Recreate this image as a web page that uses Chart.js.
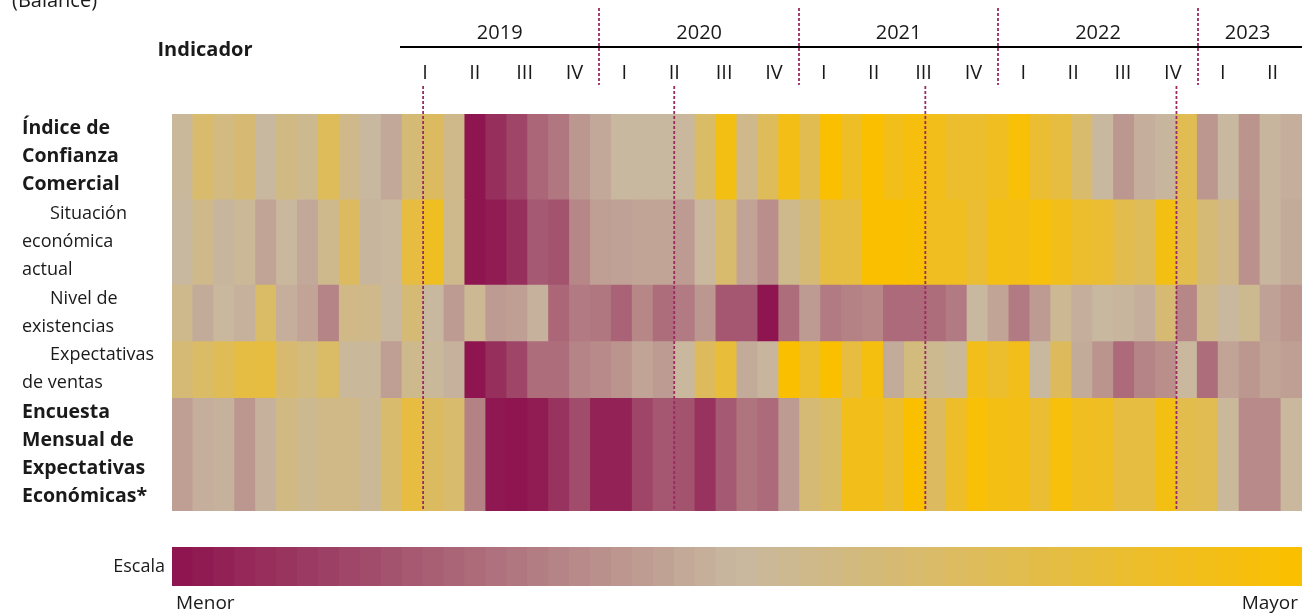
<!DOCTYPE html>
<html>
<head>
<meta charset="utf-8">
<script src="https://cdn.jsdelivr.net/npm/chart.js@4.4.0/dist/chart.umd.min.js"></script>
<style>
    html, body { margin: 0; padding: 0; background: #fff; }
    #wrap { position: relative; width: 1302px; height: 613px; overflow: hidden; }
    #heat-box { position: absolute; left: 0; top: 0; width: 1302px; height: 530px; }
    #scale-box { position: absolute; left: 0; top: 530px; width: 1302px; height: 83px; }
</style>
</head>
<body>
<div id="wrap">
    <div id="heat-box"><canvas id="heat-canvas"></canvas></div>
    <div id="scale-box"><canvas id="scale-canvas"></canvas></div>
</div>
<script>
    var YEARS = ['2019', '2020', '2021', '2022', '2023'];
    var MONTHS_PER_YEAR = [12, 12, 12, 12, 6];
    var MONTH_NAMES = ['ene', 'feb', 'mar', 'abr', 'may', 'jun', 'jul', 'ago', 'sep', 'oct', 'nov', 'dic'];
    var QUARTERS = ['I', 'II', 'III', 'IV'];

    // row labels, one entry per text line
    var ROW_LABELS = [
        ['Índice de', 'Confianza', 'Comercial'],
        ['      Situación', 'económica', 'actual'],
        ['      Nivel de', 'existencias'],
        ['      Expectativas', 'de ventas'],
        ['Encuesta', 'Mensual de', 'Expectativas', 'Económicas*']
    ];
    var ROW_BOLD = [true, false, false, false, true];

    // heat level per month, 0 = menor, 100 = mayor
    var ICC = [52, 66, 60, 64, 50, 59, 55, 72, 57, 50, 45, 63, 70, 57,
        0, 8, 15, 25, 30, 40, 45, 50, 50, 50, 51, 68, 94, 57,
        72, 93, 75, 100, 88, 100, 92, 96, 92, 86, 86, 90, 98, 84,
        80, 66, 50, 40, 47, 49, 74, 40, 50, 39, 49, 47];
    var SITUACION = [50, 57, 49, 53, 44, 51, 45, 56, 70, 49, 51, 80, 89, 56,
        0, 2, 8, 21, 19, 35, 42, 43, 44, 44, 41, 51, 66, 44,
        37, 56, 63, 80, 80, 100, 100, 99, 90, 90, 84, 94, 93, 97,
        92, 86, 84, 76, 72, 94, 76, 63, 58, 38, 49, 46];
    var EXISTENCIAS = [56, 46, 51, 48, 68, 47, 44, 34, 58, 57, 50, 63, 50, 41,
        54, 41, 42, 48, 25, 31, 30, 24, 35, 27, 31, 40, 20, 20,
        0, 27, 41, 31, 33, 35, 26, 26, 27, 31, 50, 44, 31, 41,
        54, 47, 50, 49, 47, 64, 35, 57, 51, 55, 43, 40];
    var EXPECTATIVAS = [63, 68, 73, 79, 80, 65, 61, 68, 52, 52, 42, 56, 52, 48,
        0, 8, 15, 27, 27, 34, 36, 39, 44, 41, 51, 71, 82, 46,
        49, 100, 86, 100, 80, 95, 46, 61, 55, 52, 92, 86, 92, 50,
        71, 46, 39, 26, 34, 37, 51, 27, 44, 40, 44, 42];
    var EMEE = [42, 47, 48, 40, 48, 59, 55, 58, 58, 53, 66, 80, 70, 66,
        33, 1, 0, 2, 9, 17, 4, 4, 15, 20, 19, 9, 21, 29,
        26, 41, 63, 68, 92, 92, 86, 100, 70, 87, 98, 94, 93, 84,
        97, 90, 89, 80, 80, 94, 76, 74, 52, 36, 36, 51];
    var ROWS = [ICC, SITUACION, EXISTENCIAS, EXPECTATIVAS, EMEE];

    var FONT = '"Open Sans", sans-serif';
    var TEXT = '#1a1a1a';
    var DASH_COLOR = '#9c2a62';

    /**
     * Colour stops of the scale: menor (granate) -> neutral -> mayor (amarillo).
     */
    var STOPS = [[0, [142, 21, 80]], [50, [200, 184, 160]], [100, [250, 192, 0]]];

    function scaleColor(v){
        var lo = STOPS[0], hi = STOPS[STOPS.length - 1];
        for (var i = 0; i < STOPS.length - 1; i++) {
            if (v >= STOPS[i][0] && v <= STOPS[i + 1][0]) { lo = STOPS[i]; hi = STOPS[i + 1]; break; }
        }
        var t = (v - lo[0]) / (hi[0] - lo[0]);
        var c = lo[1].map(function(a, k){ return Math.round(a + (hi[1][k] - a) * t); });
        return 'rgb(' + c.join(',') + ')';
    }

    var MONTH_LABELS = [];
    YEARS.forEach(function(y, i){
        for (var m = 0; m < MONTHS_PER_YEAR[i]; m++) {
            MONTH_LABELS.push(MONTH_NAMES[m] + '-' + y.slice(2));
        }
    });

    // row centres on the stacked y scale (each text line = 1 unit)
    var ROW_CENTERS = [];
    var TOTAL_UNITS = 0;
    ROW_LABELS.forEach(function(lines){
        ROW_CENTERS.push(TOTAL_UNITS + lines.length / 2);
        TOTAL_UNITS += lines.length;
    });

    /**
     * Header with years, quarters and dashed separators.
     * The header band starts 228px right of the plot and ends 4px short of it.
     */
    var headerPlugin = {
        id: 'header',
        afterDatasetsDraw: function(chart){
            var ctx = chart.ctx, area = chart.chartArea;
            var xs = chart.scales.x;
            var hLeft = area.left + 228;
            var hMonth = (area.right - 4.5 - hLeft) / MONTH_LABELS.length;
            var hx = function(m){ return hLeft + m * hMonth; };

            ctx.save();
            ctx.fillStyle = TEXT;
            ctx.textBaseline = 'alphabetic';
            ctx.textAlign = 'left';
            ctx.font = '20px ' + FONT;
            ctx.fillText('(Balance)', 12, 7);

            ctx.textAlign = 'center';
            ctx.font = 'bold 20px ' + FONT;
            ctx.fillText('Indicador', 205, 56);

            ctx.font = '20px ' + FONT;
            ctx.textBaseline = 'middle';
            var start = 0;
            YEARS.forEach(function(y, i){
                var end = start + MONTHS_PER_YEAR[i];
                ctx.fillText(y, hx((start + end) / 2), 33);
                for (var q = 0; q < MONTHS_PER_YEAR[i] / 3; q++) {
                    ctx.fillText(QUARTERS[q], hx(start + q * 3 + 1.5), 73);
                }
                start = end;
            });

            // header rule
            ctx.strokeStyle = '#000';
            ctx.lineWidth = 2;
            ctx.beginPath();
            ctx.moveTo(hx(0), 47);
            ctx.lineTo(area.right, 47);
            ctx.stroke();

            // dashed year separators (header and plot)
            ctx.strokeStyle = DASH_COLOR;
            ctx.lineWidth = 1.8;
            ctx.setLineDash([3, 2]);
            start = 0;
            for (var i = 0; i < YEARS.length - 1; i++) {
                start += MONTHS_PER_YEAR[i];
                var px = Math.round(hx(start));
                ctx.beginPath();
                ctx.moveTo(px, 8);
                ctx.lineTo(px, 85);
                ctx.stroke();

                var dx = (xs.getPixelForValue(start - 1) + xs.getPixelForValue(start)) / 2;
                ctx.beginPath();
                ctx.moveTo(dx, 86);
                ctx.lineTo(dx, area.bottom);
                ctx.stroke();
            }
            ctx.restore();
        }
    };

    var heatChart = new Chart(document.getElementById('heat-canvas'), {
        type: 'bar',
        data: {
            labels: MONTH_LABELS,
            datasets: ROWS.map(function(values, i){
                var units = ROW_LABELS[i].length;
                return {
                    label: ROW_LABELS[i].join(' ').trim(),
                    data: values.map(function(){ return units; }),
                    backgroundColor: values.map(scaleColor),
                    borderWidth: 0,
                    inflateAmount: 0.5,
                    categoryPercentage: 1,
                    barPercentage: 1
                };
            })
        },
        options: {
            responsive: true,
            maintainAspectRatio: false,
            animation: false,
            layout: { padding: { left: 22, right: 0, top: 114, bottom: 19 } },
            plugins: { legend: { display: false }, tooltip: { enabled: false } },
            scales: {
                x: { display: false, stacked: true },
                y: {
                    stacked: true,
                    reverse: true,
                    min: 0,
                    max: TOTAL_UNITS,
                    grid: { display: false, drawTicks: false },
                    border: { display: false },
                    afterBuildTicks: function(scale){
                        scale.ticks = ROW_CENTERS.map(function(v){ return { value: v }; });
                    },
                    afterFit: function(scale){
                        scale.width = 150;
                        scale.paddingTop = 0;
                        scale.paddingBottom = 0;
                    },
                    ticks: {
                        autoSkip: false,
                        crossAlign: 'far',
                        padding: 0,
                        color: TEXT,
                        font: function(c){
                            return { family: FONT, size: ROW_BOLD[c.index] ? 19.5 : 18, weight: ROW_BOLD[c.index] ? 'bold' : 'normal', lineHeight: '27.8px' };
                        },
                        callback: function(value, index){ return ROW_LABELS[index]; }
                    }
                }
            }
        },
        plugins: [headerPlugin]
    });

    // legend scale bar
    var SCALE_BANDS = 54;
    var scaleLevels = [];
    for (var b = 0; b < SCALE_BANDS; b++) { scaleLevels.push(b * 100 / (SCALE_BANDS - 1)); }

    var scaleLabels = {
        id: 'scaleLabels',
        afterDraw: function(chart){
            var ctx = chart.ctx, area = chart.chartArea;
            ctx.save();
            ctx.fillStyle = TEXT;
            ctx.font = '18px ' + FONT;
            ctx.textAlign = 'right';
            ctx.textBaseline = 'middle';
            ctx.fillText('Escala', area.left - 7, (area.top + area.bottom) / 2);
            ctx.font = '19px ' + FONT;
            ctx.textBaseline = 'alphabetic';
            ctx.textAlign = 'left';
            ctx.fillText('Menor', area.left + 4, 79);
            ctx.textAlign = 'right';
            ctx.fillText('Mayor', area.right - 4, 79);
            ctx.restore();
        }
    };

    var scaleChart = new Chart(document.getElementById('scale-canvas'), {
        type: 'bar',
        data: {
            labels: scaleLevels.map(function(v){ return Math.round(v); }),
            datasets: [{
                data: scaleLevels.map(function(){ return 1; }),
                backgroundColor: scaleLevels.map(scaleColor),
                borderWidth: 0,
                inflateAmount: 0.5,
                categoryPercentage: 1,
                barPercentage: 1
            }]
        },
        options: {
            responsive: true,
            maintainAspectRatio: false,
            animation: false,
            layout: { padding: { left: 172, right: 0, top: 17, bottom: 27 } },
            plugins: { legend: { display: false }, tooltip: { enabled: false } },
            scales: {
                x: { display: false },
                y: { display: false, min: 0, max: 1 }
            }
        },
        plugins: [scaleLabels]
    });
</script>
</body>
</html>
